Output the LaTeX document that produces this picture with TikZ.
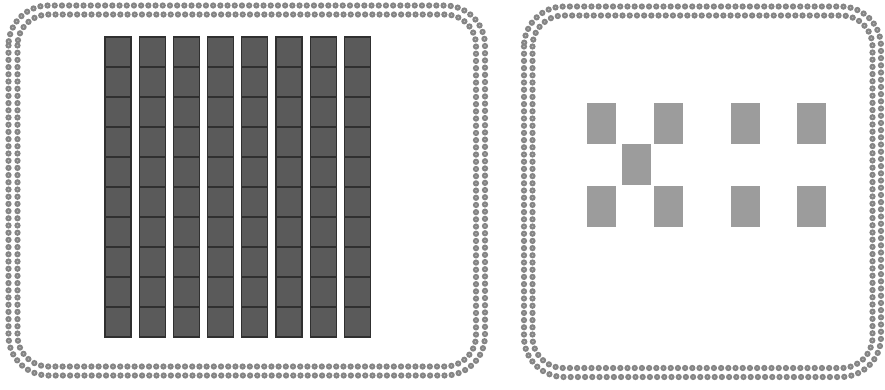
\documentclass[tikz,border=0pt]{standalone}
\definecolor{dotgray}{HTML}{858585}
\definecolor{dotlight}{HTML}{B8B8B8}
\definecolor{roddark}{HTML}{5A5A5A}
\definecolor{rodedge}{HTML}{303030}
\definecolor{unitgray}{HTML}{9C9C9C}
\begin{document}
\begin{tikzpicture}[x=1pt,y=-1pt,
  dotrow/.style={draw=dotgray, line width=6.3pt, line cap=round, dash pattern=on 0pt off 7.2pt},
  dotcore/.style={draw=dotlight, line width=1.6pt, line cap=round, dash pattern=on 0pt off 7.2pt},
  rod/.style={fill=roddark, draw=rodedge, line width=1.3pt},
  rodline/.style={draw=rodedge, line width=1.1pt},
  unitsq/.style={fill=unitgray}]
\useasboundingbox (0,0) rectangle (885,389);
% frames: two rows of beads each
\foreach \s in {dotrow,dotcore}{
  \draw[\s, rounded corners=40pt] (8.5,5.5) rectangle (485,375.5);
  \draw[\s, rounded corners=31pt] (17.5,14.5) rectangle (476,366.5);
  \draw[\s, rounded corners=40pt] (524,6.5) rectangle (881,377);
  \draw[\s, rounded corners=31pt] (532.5,15.5) rectangle (872.5,368);
}
% ten-rods
\foreach \i in {0,...,7}{
  \pgfmathsetmacro\xa{105+34.2*\i}
  \draw[rod] (\xa,37) rectangle ++(26,300);
  \foreach \j in {1,...,9}
    \draw[rodline] (\xa,37+30*\j) -- ++(26,0);
}
% unit cubes
\foreach \p/\q in {587/103,654/103,622/144,587/186,654/186,731/103,797/103,731/186,797/186}
  \fill[unitsq] (\p,\q) rectangle ++(29,41);
\end{tikzpicture}
\end{document}
